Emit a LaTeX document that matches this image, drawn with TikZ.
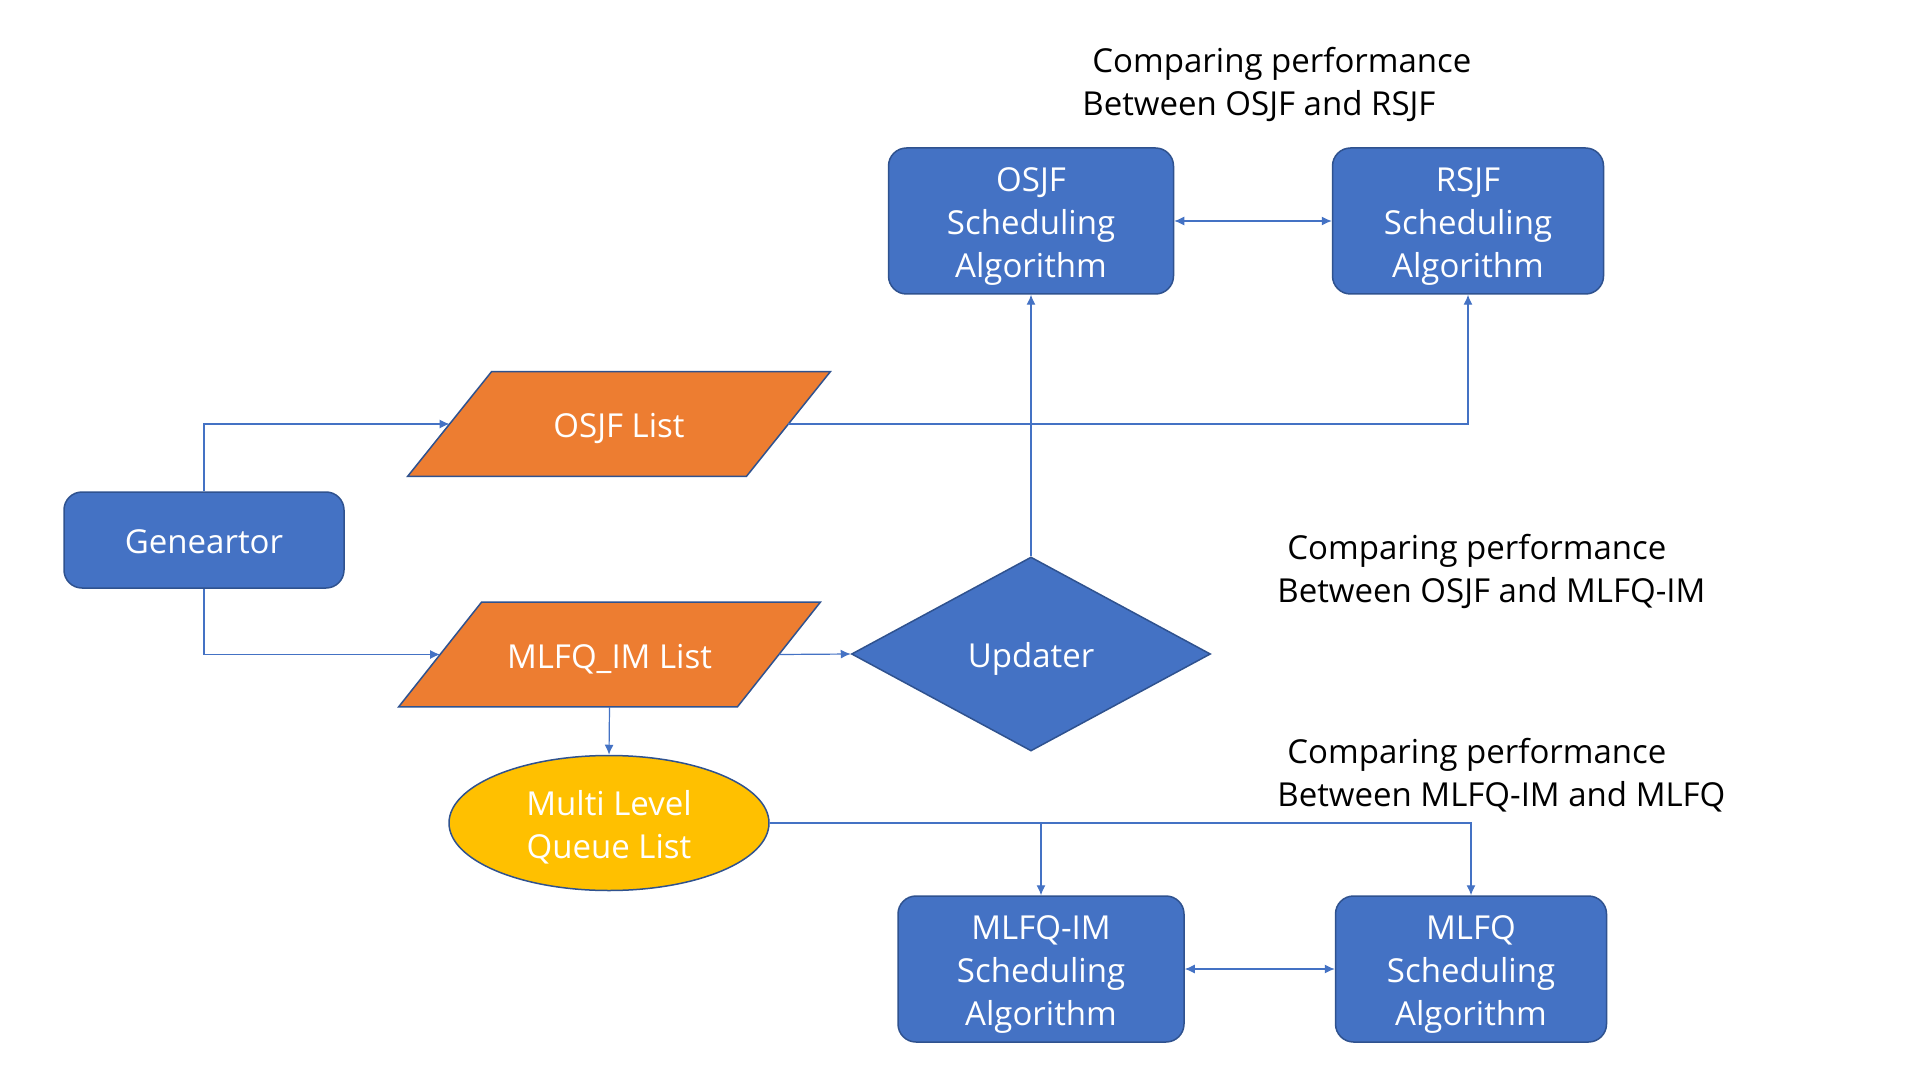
\documentclass[tikz,border=0pt]{standalone}
\usepackage{fontspec}
\setmainfont{Open Sans}
\usetikzlibrary{arrows.meta,calc,shapes.geometric,backgrounds}
\definecolor{mblue}{HTML}{4472C4}
\definecolor{bblue}{HTML}{2F528F}
\definecolor{morange}{HTML}{ED7D31}
\definecolor{myellow}{HTML}{FFC000}
\newcommand{\mytxt}[1]{\raisebox{-2.5pt}[\height][\depth]{\begin{tabular}{@{}c@{}}#1\end{tabular}}}
\begin{document}
\begin{tikzpicture}[x=0.5pt,y=-0.5pt,
  font=\fontsize{16.5}{21.5}\selectfont,
  blk/.style={draw=bblue, fill=mblue, line width=0.75pt, rounded corners=9pt, text=white, align=center, inner sep=0pt},
  par/.style={inner sep=0pt, text=white, minimum height=52pt},
  parshape/.style={fill=morange, draw=bblue, line width=0.75pt},
  con/.style={draw=mblue, line width=0.6pt, -{Latex[length=5pt,width=4.5pt]}},
  con2/.style={draw=mblue, line width=0.6pt, {Latex[length=5pt,width=4.5pt]}-{Latex[length=5pt,width=4.5pt]}},
  captext/.style={anchor=north west, align=left, inner sep=0pt, text=black}
]
\path[use as bounding box] (0,0) rectangle (1920,1080);
\begin{scope}[on background layer]
\fill[white] (0,0) rectangle (1920,1080);
\end{scope}

% boxes
\node[blk, minimum width=140pt, minimum height=48pt] (gen) at (204,540) {\mytxt{Geneartor}};
\node[blk, minimum width=142.5pt, minimum height=73pt] (osjf) at (1031,221) {\mytxt{OSJF\\Scheduling\\Algorithm}};
\node[blk, minimum width=135.5pt, minimum height=73pt] (rsjf) at (1468,221) {\mytxt{RSJF\\Scheduling\\Algorithm}};
\node[blk, minimum width=143pt, minimum height=73pt] (mim) at (1041,969) {\mytxt{MLFQ-IM\\Scheduling\\Algorithm}};
\node[blk, minimum width=135.5pt, minimum height=73pt] (mlfq) at (1471,969) {\mytxt{MLFQ\\Scheduling\\Algorithm}};

% diamond and ellipse
\node[diamond, fill=mblue, draw=bblue, line width=0.75pt, minimum width=179.5pt, minimum height=97pt, inner sep=0pt, text=white] (upd) at (1031,654) {\mytxt{Updater}};
\node[ellipse, fill=myellow, draw=bblue, line width=0.75pt, minimum width=160pt, minimum height=67.5pt, inner sep=0pt, text=white, align=center] (mlq) at (609,823) {\mytxt{Multi Level\\Queue List}};

% parallelograms
\node[par, minimum width=211pt] (osl) at (619,424) {\mytxt{OSJF List}};
\node[par, minimum width=210.5pt] (mil) at (609.5,654.5) {\mytxt{MLFQ\_IM List}};
\begin{scope}[on background layer]
\draw[parshape] ($(osl.north west)+(84,0)$) -- (osl.north east) -- ($(osl.south east)+(-84,0)$) -- (osl.south west) -- cycle;
\draw[parshape] ($(mil.north west)+(83,0)$) -- (mil.north east) -- ($(mil.south east)+(-83,0)$) -- (mil.south west) -- cycle;
\end{scope}

% connectors
\draw[con] (gen.north) |- ($(osl.west)+(42,0)$);
\draw[con] (gen.south) |- ($(mil.west)+(41.5,0)$);
\draw[con] ($(mil.east)+(-41.5,0)$) -- (upd.west);
\draw[con] (mil.south) -- (mlq.north);
\draw[con] (upd.north) -- (osjf.south);
\draw[con] ($(osl.east)+(-42,0)$) -| (rsjf.south);
\draw[con2] (osjf.east) -- (rsjf.west);
\draw[con] (mlq.east) -| (mlfq.north);
\draw[con] (mim.north |- mlq.east) -- (mim.north);
\draw[con2] (mim.east) -- (mlfq.west);

% captions
\node[captext] (c1) at (1082,47) {\hspace{5pt}Comparing performance\\Between OSJF and RSJF};
\node[captext] (c2) at (1277,534) {\hspace{5pt}Comparing performance\\Between OSJF and MLFQ-IM};
\node[captext] (c3) at (1277,738) {\hspace{5pt}Comparing performance\\Between MLFQ-IM and MLFQ};
\end{tikzpicture}
\end{document}
